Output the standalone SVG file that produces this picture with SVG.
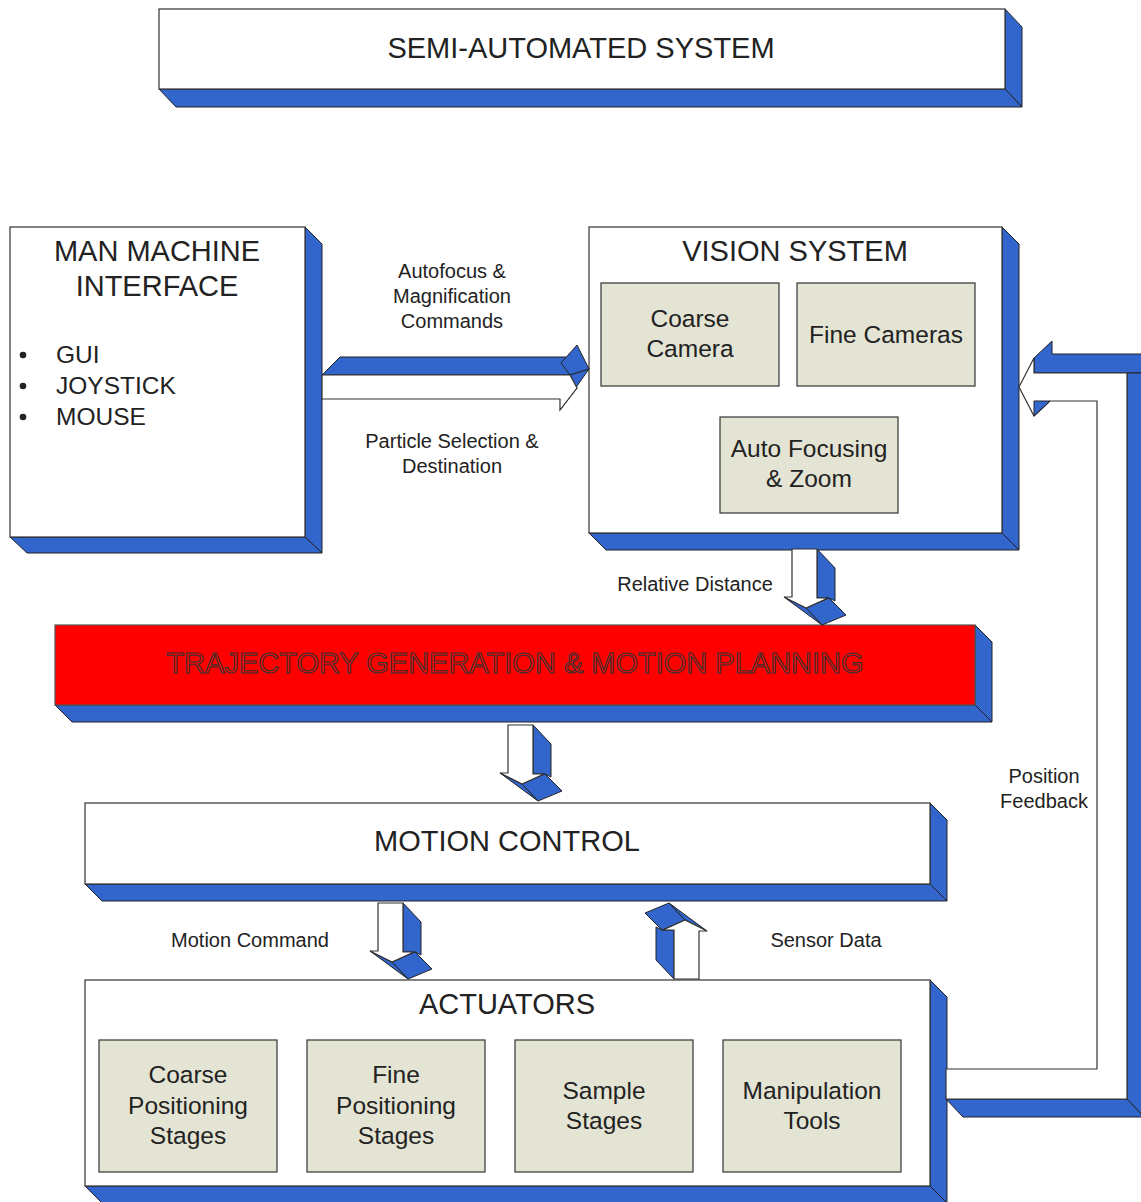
<svg xmlns="http://www.w3.org/2000/svg" xmlns:xlink="http://www.w3.org/1999/xlink" width="1141" height="1202" viewBox="0 0 1141 1202">
<style>
.front{fill:#fff;stroke:#333;stroke-width:1.2}
.side{fill:#3366cc;stroke:#222;stroke-width:1}
.sub{fill:#e4e4d4;stroke:#333;stroke-width:1.2}
.red{fill:#ff0000;stroke:#555;stroke-width:1.2}
text{font-family:"Liberation Sans",Arial,sans-serif;fill:#222}
.h{font-size:29px;text-anchor:middle}
.s{font-size:24.5px;text-anchor:middle}
.l{font-size:20px;text-anchor:middle}
.b{font-size:24.5px}
.tr{font-size:29px;text-anchor:middle;fill:#ff0000;stroke:#333;stroke-width:1.1}
</style>
<defs>
<g id="downArrow">
<path class="side" d="M25,0 L43,19 L43,52 L37,49 L25,49 Z"/>
<path class="side" d="M14,59 L37,49 L54,66 L30,76 Z"/>
<path class="side" d="M-8,48 L14,59 L30,76 Z"/>
<path class="front" d="M0,0 H25 V49 H36 L14,59 L-8,48 H0 Z"/>
</g>
</defs>
<rect width="1141" height="1202" fill="#fff"/>

<g id="semi-automated-system">
<path class="side" d="M1005,9 L1022,27 L1022,107 L1005,89 Z"/>
<path class="side" d="M159,89 L1005,89 L1022,107 L176,107 Z"/>
<rect class="front" x="159" y="9" width="846" height="80"/>
<text class="h" x="581" y="58">SEMI-AUTOMATED SYSTEM</text>
</g>

<g id="man-machine-interface">
<path class="side" d="M305,227 L322,244 L322,553 L305,537 Z"/>
<path class="side" d="M10,537 L305,537 L322,553 L27,553 Z"/>
<rect class="front" x="10" y="227" width="295" height="310"/>
<text class="h" x="157" y="261">MAN MACHINE</text>
<text class="h" x="157" y="296">INTERFACE</text>
<circle cx="23" cy="355" r="3.3" fill="#222"/>
<circle cx="23" cy="386" r="3.3" fill="#222"/>
<circle cx="23" cy="417" r="3.3" fill="#222"/>
<text class="b" x="56" y="363">GUI</text>
<text class="b" x="56" y="394">JOYSTICK</text>
<text class="b" x="56" y="425">MOUSE</text>
</g>

<g id="vision-system">
<path class="side" d="M1002,227 L1019,244 L1019,550 L1002,533 Z"/>
<path class="side" d="M589,533 L1002,533 L1019,550 L606,550 Z"/>
<rect class="front" x="589" y="227" width="413" height="306"/>
<text class="h" x="795" y="261">VISION SYSTEM</text>
<g id="coarse-camera">
<rect class="sub" x="601" y="283" width="178" height="103"/>
<text class="s" x="690" y="327">Coarse</text>
<text class="s" x="690" y="357">Camera</text>
</g>
<g id="fine-cameras">
<rect class="sub" x="797" y="283" width="178" height="103"/>
<text class="s" x="886" y="343">Fine Cameras</text>
</g>
<g id="auto-focusing">
<rect class="sub" x="720" y="417" width="178" height="96"/>
<text class="s" x="809" y="457">Auto Focusing</text>
<text class="s" x="809" y="487">&amp; Zoom</text>
</g>
</g>

<g id="trajectory-generation">
<path class="side" d="M975,625 L992,642 L992,722 L975,705 Z"/>
<path class="side" d="M55,705 L975,705 L992,722 L72,722 Z"/>
<rect class="red" x="55" y="625" width="920" height="80"/>
<text class="tr" x="515" y="673">TRAJECTORY GENERATION &amp; MOTION PLANNING</text>
</g>

<g id="motion-control">
<path class="side" d="M930,803 L947,820 L947,901 L930,884 Z"/>
<path class="side" d="M85,884 L930,884 L947,901 L102,901 Z"/>
<rect class="front" x="85" y="803" width="845" height="81"/>
<text class="h" x="507" y="851">MOTION CONTROL</text>
</g>

<g id="actuators">
<path class="side" d="M930,980 L947,997 L947,1210 L930,1193 Z"/>
<path class="side" d="M85,1186 L930,1186 L947,1203 L102,1203 Z"/>
<rect class="front" x="85" y="980" width="845" height="206"/>
<text class="h" x="507" y="1014">ACTUATORS</text>
<g id="coarse-positioning-stages">
<rect class="sub" x="99" y="1040" width="178" height="132"/>
<text class="s" x="188" y="1083">Coarse</text>
<text class="s" x="188" y="1114">Positioning</text>
<text class="s" x="188" y="1144">Stages</text>
</g>
<g id="fine-positioning-stages">
<rect class="sub" x="307" y="1040" width="178" height="132"/>
<text class="s" x="396" y="1083">Fine</text>
<text class="s" x="396" y="1114">Positioning</text>
<text class="s" x="396" y="1144">Stages</text>
</g>
<g id="sample-stages">
<rect class="sub" x="515" y="1040" width="178" height="132"/>
<text class="s" x="604" y="1099">Sample</text>
<text class="s" x="604" y="1129">Stages</text>
</g>
<g id="manipulation-tools">
<rect class="sub" x="723" y="1040" width="178" height="132"/>
<text class="s" x="812" y="1099">Manipulation</text>
<text class="s" x="812" y="1129">Tools</text>
</g>
</g>

<g id="connectors">
<g id="mmi-to-vision">
<path class="side" d="M322,375 L340,357 L566,357 L570,375 Z"/>
<path class="side" d="M561,363 L577,345 L589,369 L570,375 Z"/>
<path class="side" d="M570,375 L589,369 L560,410 L577,388 Z"/>
<path class="front" d="M322,375 H570 L577,388 L560,410 V399 H322 Z"/>
</g>
<use xlink:href="#downArrow" href="#downArrow" transform="translate(792,549)"/>
<use xlink:href="#downArrow" href="#downArrow" transform="translate(508,725)"/>
<use xlink:href="#downArrow" href="#downArrow" transform="translate(378,903)"/>
<use xlink:href="#downArrow" href="#downArrow" transform="translate(699,979) rotate(180)"/>
<g id="position-feedback">
<path class="side" d="M1034,358 L1052,341 L1052,354 H1150 V373 H1034 Z"/>
<path class="side" d="M1127,373 H1150 V1117 H1144 L1127,1099 Z"/>
<path class="side" d="M946,1099 H1127 L1144,1117 H963 Z"/>
<path class="front" d="M1019,387 L1034,358 L1034,373 H1127 V1099 H946 V1069 H1097 V401 H1050 L1034,416 Z"/>
<path class="side" d="M1034,401 H1050 L1034,416 Z"/>
</g>
</g>

<g id="labels">
<text class="l" x="452" y="278">Autofocus &amp;</text>
<text class="l" x="452" y="303">Magnification</text>
<text class="l" x="452" y="328">Commands</text>
<text class="l" x="452" y="448">Particle Selection &amp;</text>
<text class="l" x="452" y="473">Destination</text>
<text class="l" x="695" y="591">Relative Distance</text>
<text class="l" x="1044" y="783">Position</text>
<text class="l" x="1044" y="808">Feedback</text>
<text class="l" x="250" y="947">Motion Command</text>
<text class="l" x="826" y="947">Sensor Data</text>
</g>
</svg>
